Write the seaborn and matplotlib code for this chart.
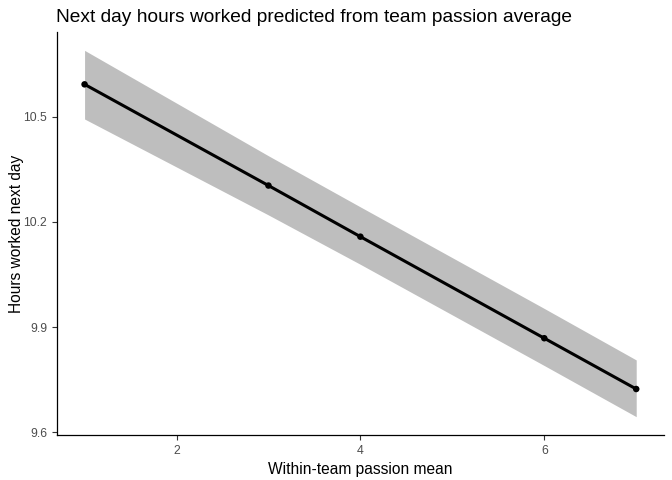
import pandas as pd
import seaborn as sns
import matplotlib.pyplot as plt

passion = [1, 3, 4, 6, 7]
hours = [10.593, 10.304, 10.158, 9.868, 9.723]
ci_low = [10.494, 10.220, 10.079, 9.790, 9.644]
ci_high = [10.690, 10.389, 10.243, 9.953, 9.806]

df = pd.DataFrame({"passion": passion, "hours": hours, "lo": ci_low, "hi": ci_high})

sns.set_style("ticks")
plt.rcParams["font.family"] = ["Liberation Sans", "DejaVu Sans"]
plt.rcParams["text.color"] = "black"
plt.rcParams["axes.labelcolor"] = "black"

fig = plt.figure(figsize=(6.72, 4.8), dpi=100)
ax = fig.add_axes([0.0848, 0.094, 0.903, 0.839])

ax.fill_between(df["passion"], df["lo"], df["hi"], color="#BEBEBE", lw=0)
sns.lineplot(data=df, x="passion", y="hours", color="black", lw=2.2, ax=ax)
sns.scatterplot(data=df, x="passion", y="hours", color="black", s=22, edgecolor="none", ax=ax, zorder=3)

ax.set_xlim(0.7, 7.3)
ax.set_ylim(9.592, 10.742)
ax.set_xticks([2, 4, 6])
ax.set_yticks([9.6, 9.9, 10.2, 10.5])
ax.set_yticklabels(["9.6", "9.9", "10.2", "10.5"])
ax.tick_params(colors="#333333", labelcolor="#4D4D4D", labelsize=8.8, length=3.5, width=0.8)
for side in ["top", "right"]:
    ax.spines[side].set_visible(False)
for side in ["left", "bottom"]:
    ax.spines[side].set_linewidth(0.9)
    ax.spines[side].set_color("black")

ax.set_xlabel("Within-team passion mean", fontsize=11.2, labelpad=4)
ax.set_ylabel("Hours worked next day", fontsize=11.2, labelpad=0)
ax.set_title("Next day hours worked predicted from team passion average", fontsize=13.8, loc="left", x=-0.002, pad=7)

fig.savefig("out.png", dpi=100)
